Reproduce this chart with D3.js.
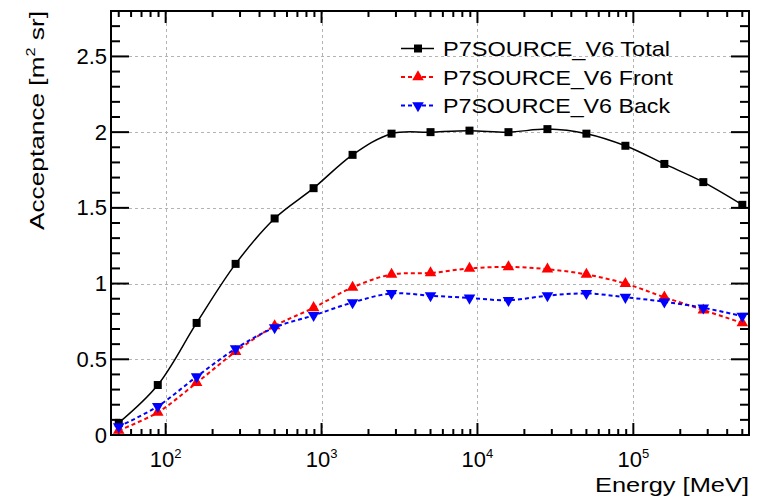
<!DOCTYPE html>
<html>
<head>
<meta charset="utf-8">
<script src="https://cdn.jsdelivr.net/npm/d3@7"></script>
<style>
  body { margin: 0; background: #fff; }
  svg { display: block; font-family: "Liberation Sans", Arial, sans-serif; }
</style>
</head>
<body>
<script>
// energies in MeV (quarter-decade bins)
var energies = [50, 89, 158, 281, 500, 889, 1581, 2812, 5000, 8891, 15811, 28117, 50000, 88914, 158114, 281171, 500000];
var total = [0.08, 0.33, 0.74, 1.13, 1.43, 1.63, 1.85, 1.99, 2.00, 2.01, 2.00, 2.02, 1.99, 1.91, 1.79, 1.67, 1.52];
var front = [0.03, 0.15, 0.345, 0.55, 0.72, 0.84, 0.975, 1.06, 1.07, 1.10, 1.11, 1.095, 1.06, 1.00, 0.91, 0.825, 0.74];
var back = [0.055, 0.19, 0.385, 0.57, 0.71, 0.79, 0.875, 0.935, 0.92, 0.905, 0.89, 0.92, 0.935, 0.91, 0.88, 0.84, 0.785];
var seriesNames = ["P7SOURCE_V6 Total", "P7SOURCE_V6 Front", "P7SOURCE_V6 Back"];
var yTicks = [0, 0.5, 1, 1.5, 2, 2.5];
var xDecades = [2, 3, 4, 5];

var W = 773, H = 498;
var frame = {left: 111, right: 749, top: 11, bottom: 435};

var svg = d3.select('body').append('svg')
  .attr('width', W)
  .attr('height', H);

var x = d3.scaleLog()
  .domain([44.6, 552000])
  .range([frame.left, frame.right]);

var y = d3.scaleLinear()
  .domain([0, 2.8])
  .range([frame.bottom, frame.top]);

// grid
var grid = svg.append('g')
  .attr('stroke', '#b4b4b4')
  .attr('stroke-width', 1)
  .attr('stroke-dasharray', '3,3');
xDecades.forEach(function(p) {
  var xx = Math.round(x(Math.pow(10, p))) + 0.5;
  grid.append('line').attr('x1', xx).attr('x2', xx).attr('y1', frame.top).attr('y2', frame.bottom);
});
yTicks.slice(1).forEach(function(v) {
  var yy = Math.round(y(v)) + 0.5;
  grid.append('line').attr('x1', frame.left).attr('x2', frame.right).attr('y1', yy).attr('y2', yy);
});

// ticks on all four sides
var ticks = svg.append('g').attr('stroke', '#000').attr('stroke-width', 2);
var yMinor = d3.range(0, 28).map(function(i) { return i / 10; });
yMinor.forEach(function(v, i) {
  var len = (i % 5 === 0) ? 18 : 9;
  var yy = y(v);
  ticks.append('line').attr('x1', frame.left).attr('x2', frame.left + len).attr('y1', yy).attr('y2', yy);
  ticks.append('line').attr('x1', frame.right).attr('x2', frame.right - len).attr('y1', yy).attr('y2', yy);
});
x.ticks().forEach(function(t) {
  if (t < x.domain()[0] || t > x.domain()[1]) return;
  var lg = Math.log10(t);
  var major = Math.abs(lg - Math.round(lg)) < 1e-9;
  var len = major ? 12 : 6;
  var xx = x(t);
  ticks.append('line').attr('x1', xx).attr('x2', xx).attr('y1', frame.bottom).attr('y2', frame.bottom - len);
  ticks.append('line').attr('x1', xx).attr('x2', xx).attr('y1', frame.top).attr('y2', frame.top + len);
});

// frame
svg.append('rect')
  .attr('x', frame.left)
  .attr('y', frame.top)
  .attr('width', frame.right - frame.left)
  .attr('height', frame.bottom - frame.top)
  .attr('fill', 'none')
  .attr('stroke', '#000')
  .attr('stroke-width', 2);

// tick labels
svg.selectAll('.ylab')
  .data(yTicks)
  .enter()
  .append('text')
  .attr('class', 'ylab')
  .attr('x', frame.left - 4)
  .attr('y', function(d) { return y(d) + 7.5; })
  .attr('text-anchor', 'end')
  .style('font-size', '22px')
  .text(function(d) { return d; });

var xl = svg.selectAll('.xlab')
  .data(xDecades)
  .enter()
  .append('text')
  .attr('class', 'xlab')
  .attr('x', function(d) { return x(Math.pow(10, d)); })
  .attr('y', 467)
  .attr('text-anchor', 'middle')
  .style('font-size', '22px');
xl.append('tspan').text('10');
xl.append('tspan').attr('dy', -9).style('font-size', '13px').text(function(d) { return d; });

// axis titles
svg.append('text')
  .attr('x', frame.right)
  .attr('y', 492)
  .attr('text-anchor', 'end')
  .attr('textLength', 154)
  .attr('lengthAdjust', 'spacingAndGlyphs')
  .style('font-size', '21px')
  .text('Energy [MeV]');

var yt = svg.append('text')
  .attr('transform', 'translate(43.5,' + frame.top + ') rotate(-90)')
  .attr('text-anchor', 'end')
  .attr('textLength', 219)
  .attr('lengthAdjust', 'spacingAndGlyphs')
  .style('font-size', '21px');
yt.append('tspan').text('Acceptance [m');
yt.append('tspan').attr('dy', -9).style('font-size', '13px').text('2');
yt.append('tspan').attr('dy', 9).text(' sr]');

// series
var series = [
  {name: seriesNames[0], values: total, color: '#000', dash: null, width: 1.5, marker: 'square'},
  {name: seriesNames[1], values: front, color: '#ff0000', dash: '4,3', width: 2, marker: 'up'},
  {name: seriesNames[2], values: back, color: '#0000ff', dash: '4,3', width: 2, marker: 'down'}
];

var line = d3.line()
  .x(function(d) { return x(d[0]); })
  .y(function(d) { return y(d[1]); })
  .curve(d3.curveCatmullRom.alpha(0.5));

function markerPath(type) {
  if (type === 'square') return d3.symbol(d3.symbolSquare, 64)();
  return d3.symbol(d3.symbolTriangle, 58)();
}

series.forEach(function(s) {
  var pts = energies.map(function(e, i) { return [e, s.values[i]]; });
  svg.append('path')
    .datum(pts)
    .attr('d', line)
    .attr('fill', 'none')
    .attr('stroke', s.color)
    .attr('stroke-width', s.width)
    .attr('stroke-dasharray', s.dash);
  svg.append('g')
    .selectAll('path')
    .data(pts)
    .enter()
    .append('path')
    .attr('d', markerPath(s.marker))
    .attr('transform', function(d) {
      return 'translate(' + x(d[0]) + ',' + y(d[1]) + ')' + (s.marker === 'down' ? ' rotate(180)' : '');
    })
    .attr('fill', s.color);
});

// legend
var legendRows = [48.5, 77, 105.5];
var legendWidths = [227, 230, 227];
var legend = svg.selectAll('.legend')
  .data(series)
  .enter()
  .append('g')
  .attr('class', 'legend')
  .attr('transform', function(d, i) { return 'translate(0,' + legendRows[i] + ')'; });

legend.append('line')
  .attr('x1', 401).attr('x2', 434)
  .attr('stroke', function(d) { return d.color; })
  .attr('stroke-width', function(d) { return d.width; })
  .attr('stroke-dasharray', function(d) { return d.dash; });
legend.append('path')
  .attr('d', function(d) { return markerPath(d.marker); })
  .attr('transform', function(d) { return 'translate(418,0)' + (d.marker === 'down' ? ' rotate(180)' : ''); })
  .attr('fill', function(d) { return d.color; });
legend.append('text')
  .attr('x', 443)
  .attr('y', 7.5)
  .attr('textLength', function(d, i) { return legendWidths[i]; })
  .attr('lengthAdjust', 'spacingAndGlyphs')
  .style('font-size', '21px')
  .text(function(d) { return d.name; });
</script>
</body>
</html>
